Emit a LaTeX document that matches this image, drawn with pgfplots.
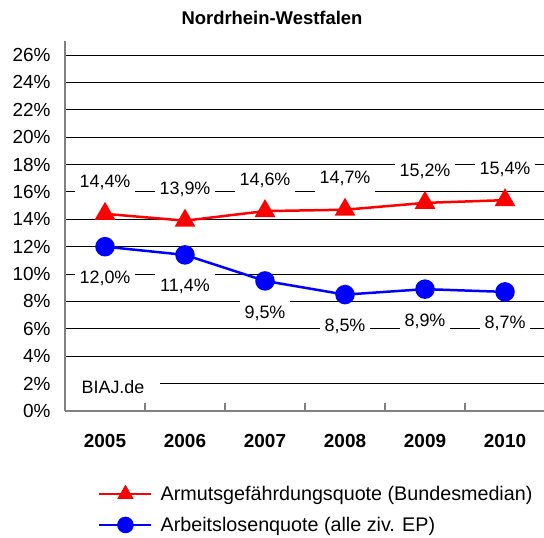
\documentclass[border=0pt]{standalone}
\usepackage{pgfplots}
\pgfplotsset{compat=1.18}
\usepackage{fontspec}
\setmainfont{Liberation Sans}
\definecolor{axgray}{RGB}{128,128,128}
\begin{document}
\begin{tikzpicture}[x=1bp,y=1bp]
\useasboundingbox (0,0) rectangle (544,-538);
\node[font=\bfseries\fontsize{18.5}{20}\selectfont] at (272,-18) {Nordrhein-Westfalen};
\begin{axis}[
  at={(65bp,-411bp)}, anchor=south west,
  scale only axis, width=480bp, height=369.7bp,
  xmin=-0.5, xmax=5.5, ymin=0, ymax=27,
  axis x line*=bottom, axis y line*=left,
  axis line style={draw=axgray, line width=1.2bp},
  ymajorgrids, major grid style={black, line width=0.9bp},
  ytick={0,2,...,26},
  yticklabels={0\%,2\%,4\%,6\%,8\%,10\%,12\%,14\%,16\%,18\%,20\%,22\%,24\%,26\%},
  ytick style={draw=none},
  yticklabel style={font=\fontsize{19}{21}\selectfont, xshift=-11bp},
  xtick={0,1,2,3,4,5},
  xticklabels={2005,2006,2007,2008,2009,2010},
  xtick style={draw=none},
  xticklabel style={font=\bfseries\fontsize{19}{21}\selectfont, yshift=-20bp},
  extra x ticks={0.5,1.5,2.5,3.5,4.5},
  extra x tick labels={,,,,},
  extra x tick style={xtick style={draw=axgray, line width=1.2bp}, major tick length=8bp, tick align=inside},
  /pgf/number format/assume math mode=true,
  nodes near coords={\pgfmathprintnumber[fixed,fixed zerofill,precision=1,use comma]{\pgfplotspointmeta}\%},
  legend style={draw=none, fill=none, at={(0.06875,-0.203)}, anchor=north west,
    font=\fontsize{19.8}{22}\selectfont, inner sep=0pt, row sep=15bp, column sep=8bp,
    nodes={inner sep=0pt}},
  legend cell align=left,
  legend image code/.code={\draw[mark repeat=2,mark phase=2,#1,mark size=7bp] plot coordinates {(0bp,0bp) (26bp,0bp) (52bp,0bp)};},
]
\addplot[color=red, line width=2.5bp, mark=triangle*, mark size=9.5bp, mark options={solid},
  every node near coord/.append style={anchor=center, yshift=31bp, fill=white, text=black,
    inner xsep=5bp, inner ysep=6bp, font=\fontsize{18}{20}\selectfont}]
  coordinates {(0,14.4) (1,13.9) (2,14.6) (3,14.7) (4,15.2) (5,15.4)};
\addlegendentry{Armutsgefährdungsquote (Bundesmedian)}
\addplot[color=blue, line width=2.5bp, mark=*, mark size=8.5bp, mark options={solid},
  every node near coord/.append style={anchor=center, yshift=-32bp, fill=white, text=black,
    inner xsep=5bp, inner ysep=6bp, font=\fontsize{18}{20}\selectfont}]
  coordinates {(0,12.0) (1,11.4) (2,9.5) (3,8.5) (4,8.9) (5,8.7)};
\addlegendentry{Arbeitslosenquote (alle ziv. EP)}
\node[fill=white, inner xsep=16bp, inner ysep=4bp, font=\fontsize{18}{20}\selectfont] at (axis cs:0.1,1.75) {BIAJ.de};
\end{axis}
\end{tikzpicture}
\end{document}
